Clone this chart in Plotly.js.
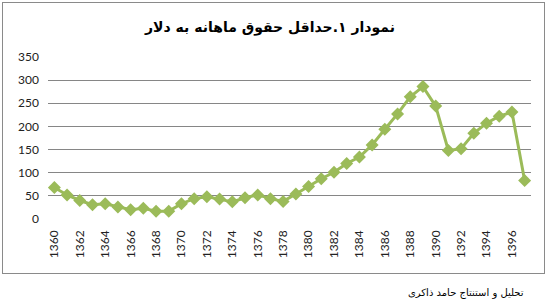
<!DOCTYPE html>
<html>
<head>
<meta charset="utf-8">
<script src="https://cdn.plot.ly/plotly-3.0.1.min.js"></script>
<style>
html,body{margin:0;padding:0;background:#fff;}
#wrap{position:relative;width:548px;height:305px;}
#chart{width:548px;height:305px;}
#frame{position:absolute;left:2px;top:2px;width:541px;height:270px;border:1px solid #8a8a8a;pointer-events:none;}
</style>
</head>
<body>
<div id="wrap">
<div id="chart"></div>
<div id="frame"></div>
</div>
<script>
var years = [1360,1361,1362,1363,1364,1365,1366,1367,1368,1369,1370,1371,1372,1373,1374,1375,1376,1377,1378,1379,1380,1381,1382,1383,1384,1385,1386,1387,1388,1389,1390,1391,1392,1393,1394,1395,1396,1397];
var wage = [68,52,40,31,33,26,20,23,17,17,33,44,48,43,37,46,52,44,38,54,70,87,101,120,134,160,194,227,264,286,244,148,152,185,207,222,231,83];
var xTicks = [1360,1362,1364,1366,1368,1370,1372,1374,1376,1378,1380,1382,1384,1386,1388,1390,1392,1394,1396];
var yTicks = [0,50,100,150,200,250,300,350];
var titleText = 'نمودار ۱.حداقل حقوق ماهانه به دلار';
var noteText = 'تحلیل و استنتاج حامد ذاکری';

var trace = {
  x: years, y: wage, type: 'scatter', mode: 'lines+markers',
  line: {color: '#9BBB59', width: 3},
  marker: {symbol: 'diamond', size: 10, color: '#9BBB59'},
  hoverinfo: 'x+y'
};
var layout = {
  width: 548, height: 305,
  margin: {l: 48, r: 17, t: 57, b: 86},
  paper_bgcolor: '#fff', plot_bgcolor: '#fff',
  showlegend: false,
  title: {text: titleText, font: {family: 'DejaVu Sans', size: 14, color: '#000', weight: 'bold'},
          xref: 'container', yref: 'container', x: 270/548, y: 1 - 27/305, xanchor: 'center', yanchor: 'middle'},
  xaxis: {range: [1359.5, 1397.5], tickvals: xTicks, ticktext: xTicks.map(String), tickangle: -90,
          showgrid: false, zeroline: false, showline: false, ticks: '', ticklabelstandoff: 8,
          tickfont: {family: 'Lato', size: 12, color: '#222'}},
  yaxis: {range: [0, 350], tickvals: yTicks, showgrid: true, gridcolor: '#868686', gridwidth: 1,
          zeroline: false, showline: false, ticks: '', ticklabelstandoff: 8,
          tickfont: {family: 'Lato', size: 12, color: '#222'}},
  annotations: [{text: noteText, xref: 'paper', yref: 'paper', x: (466-48)/483, y: (219-293)/162,
                 xanchor: 'center', yanchor: 'middle', showarrow: false,
                 font: {family: 'DejaVu Sans', size: 10, color: '#000'}}]
};
Plotly.newPlot('chart', [trace], layout, {displayModeBar: false, staticPlot: true});
</script>
</body>
</html>
